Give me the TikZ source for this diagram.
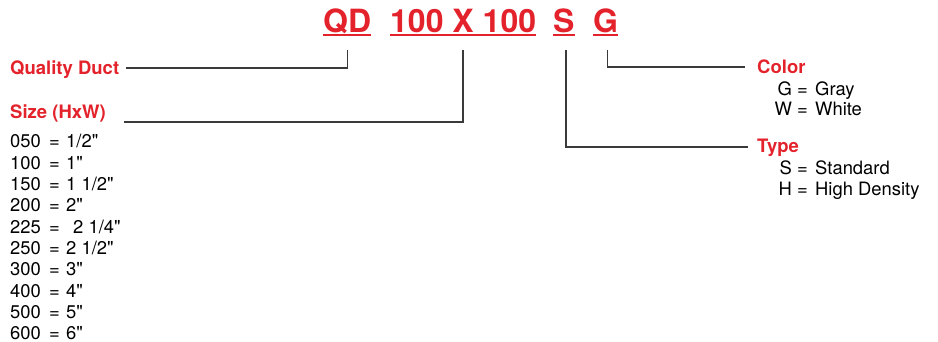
\documentclass[tikz,border=0pt]{standalone}
\usepackage{fontspec}
\setmainfont{TeX Gyre Heros}
\usepackage{tikz}
\usetikzlibrary{calc}
\definecolor{ductred}{HTML}{E3222B}
\definecolor{leadgray}{HTML}{3A3A3A}
\newcommand{\inch}{\textquotedbl}

\begin{document}
\begin{tikzpicture}[x=1pt, y=-1pt,
    code/.style={inner sep=0pt, anchor=base west, text=ductred,
      font=\fontsize{32}{36}\selectfont\bfseries},
    uline/.style={draw=ductred, line width=2pt},
    lbl/.style={inner sep=0pt, text=ductred,
      font=\fontsize{18.5}{22}\selectfont\bfseries},
    entry/.style={inner sep=0pt, font=\fontsize{18.4}{21}\selectfont},
    lead/.style={draw=leadgray, line width=1.3pt}]
  \useasboundingbox (0,0) rectangle (938,342);

  % the code parts
  \node[code] (qd)  at (323,33) {QD};
  \node[code] (sz)  at (390,33) {100 X 100};
  \node[code] (typ) at (553,33) {S};
  \node[code] (col) at (593,33) {G};
  \foreach \n in {qd, sz, typ, col}
    \draw[uline] ([yshift=-2.5pt]\n.base west) -- ([yshift=-2.5pt]\n.base east);

  % labels
  \node[lbl, anchor=base west] (quality) at (10,75)  {Quality Duct};
  \node[lbl, anchor=base west] (sizelbl) at (10,119) {Size (HxW)};
  \node[lbl, anchor=base west] (colorlbl) at (757,74) {Color};
  \node[lbl, anchor=base west] (typelbl) at (757,153) {Type};

  % leads
  \draw[lead] ([yshift=-17pt]qd.base) |- ([xshift=7pt,yshift=7pt]quality.base east);
  \draw[lead] ([yshift=-17pt]sz.base) |- ([xshift=18pt,yshift=-3pt]sizelbl.base east);
  \draw[lead] ([xshift=2pt,yshift=-17pt]typ.base) |- ([xshift=-9pt,yshift=6pt]typelbl.base west);
  \draw[lead] ([xshift=2pt,yshift=-17pt]col.base) |- ([xshift=-12pt,yshift=7pt]colorlbl.base west);

  % size list
  \foreach \c/\v [count=\i] in {050/{1/2\inch}, 100/{1\inch}, 150/{1 1/2\inch}, 200/{2\inch},
      225/{\hspace{7pt}2 1/4\inch}, 250/{2 1/2\inch}, 300/{3\inch}, 400/{4\inch}, 500/{5\inch}, 600/{6\inch}}
  {
    \node[entry, anchor=base west] (sc\i) at (10,{126.7+21.3*\i}) {\c};
    \node[entry, anchor=base west] (se\i) at (49,{126.7+21.3*\i}) {=};
    \node[entry, anchor=base west] (sv\i) at (66,{126.7+21.3*\i}) {\v};
  }

  % colour list
  \foreach \k/\v [count=\i] in {G/Gray, W/White}
  {
    \node[entry, anchor=base east] (ck\i) at (808,{76+20*\i}) {\k\ =};
    \node[entry, anchor=base west] (cv\i) at (815,{76+20*\i}) {\v};
  }

  % type list
  \foreach \k/\v [count=\i] in {S/Standard, H/High Density}
  {
    \node[entry, anchor=base east] (tk\i) at (808,{154+21*\i}) {\k\ =};
    \node[entry, anchor=base west] (tv\i) at (815,{154+21*\i}) {\v};
  }
\end{tikzpicture}
\end{document}
